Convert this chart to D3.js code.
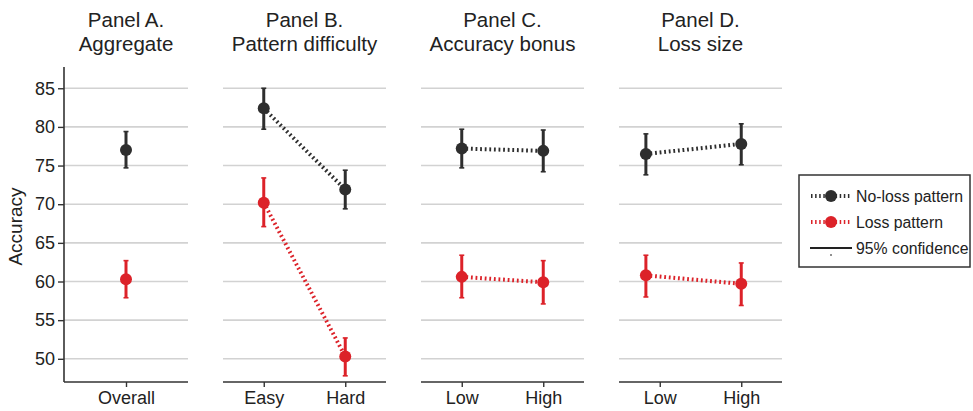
<!DOCTYPE html>
<html>
<head>
<meta charset="utf-8">
<script src="https://cdn.jsdelivr.net/npm/d3@7/dist/d3.min.js"></script>
<style>
  html, body { margin: 0; padding: 0; background: #fff; }
  svg { display: block; font-family: "Liberation Sans", Arial, Helvetica, sans-serif; }
</style>
</head>
<body>
<svg id="chart" width="973" height="411"></svg>
<script>
// ---- data ----
const panelTitles = [
  ["Panel A.", "Aggregate"],
  ["Panel B.", "Pattern difficulty"],
  ["Panel C.", "Accuracy bonus"],
  ["Panel D.", "Loss size"]
];
const panelCategories = [
  ["Overall"],
  ["Easy", "Hard"],
  ["Low", "High"],
  ["Low", "High"]
];
// position of each point along its panel's category axis (1 = first category)
const pointPositions = [
  [1],
  [1, 2],
  [1, 2],
  [0.83, 2]
];

// No-loss pattern: mean, lower and upper 95% bounds per panel
const noLossMean  = [[77.0], [82.4, 71.9], [77.2, 76.9], [76.5, 77.8]];
const noLossLower = [[74.7], [79.7, 69.4], [74.7, 74.2], [73.8, 75.1]];
const noLossUpper = [[79.4], [85.0, 74.4], [79.7, 79.6], [79.1, 80.4]];

// Loss pattern
const lossMean  = [[60.3], [70.2, 50.3], [60.6, 59.9], [60.8, 59.7]];
const lossLower = [[57.9], [67.1, 47.8], [57.9, 57.1], [58.0, 56.9]];
const lossUpper = [[62.7], [73.4, 52.7], [63.4, 62.7], [63.4, 62.4]];

const yTicks = [50, 55, 60, 65, 70, 75, 80, 85];
const yLabel = "Accuracy";
const legendLabels = ["No-loss pattern", "Loss pattern", "95% confidence"];

// ---- layout ----
const colors = { noLoss: "#2e2e2e", loss: "#dc2229" };
const inkColor = "#222";
const panelX = [[64, 188], [223, 386], [421, 584], [619, 782]];
const plotTop = 67, plotBottom = 382;

const svg = d3.select("#chart");
const y = d3.scaleLinear().domain([47.0, 87.75]).range([plotBottom, plotTop]);

const series = [
  { key: "noLoss", mean: noLossMean, lower: noLossLower, upper: noLossUpper, color: colors.noLoss },
  { key: "loss",   mean: lossMean,   lower: lossLower,   upper: lossUpper,   color: colors.loss }
];

panelTitles.forEach((title, p) => {
  const cats = panelCategories[p];
  const x = d3.scaleLinear()
    .domain([0.5, cats.length + 0.5])
    .range(panelX[p]);
  const g = svg.append("g");

  // horizontal gridlines
  g.selectAll("line.grid").data(yTicks).enter().append("line")
    .attr("class", "grid")
    .attr("x1", panelX[p][0]).attr("x2", panelX[p][1])
    .attr("y1", d => y(d)).attr("y2", d => y(d))
    .attr("stroke", "#d2d2d2").attr("stroke-width", 1.6);

  // bottom axis
  const xAxis = d3.axisBottom(x)
    .tickValues(d3.range(1, cats.length + 1))
    .tickFormat(d => cats[d - 1])
    .tickSize(5).tickSizeOuter(0);
  const ax = g.append("g").attr("transform", `translate(0,${plotBottom})`).call(xAxis);
  ax.select(".domain").attr("stroke", "#333").attr("stroke-width", 1.6)
    .attr("d", `M${panelX[p][0]},0H${panelX[p][1]}`);
  ax.selectAll(".tick line").attr("stroke", "#333").attr("stroke-width", 1.4);
  ax.selectAll(".tick text").attr("font-size", 18).attr("fill", inkColor)
    .attr("font-family", "Liberation Sans, Arial, sans-serif").attr("dy", "0.95em").attr("y", 5);

  // left axis on the first panel only
  if (p === 0) {
    const yAxis = d3.axisLeft(y).tickValues(yTicks).tickSize(6).tickSizeOuter(0).tickPadding(3);
    const ay = g.append("g").attr("transform", `translate(${panelX[p][0]},0)`).call(yAxis);
    ay.select(".domain").attr("stroke", "#333").attr("stroke-width", 1.6)
      .attr("d", `M0,${plotTop}V${plotBottom}`);
    ay.selectAll(".tick line").attr("stroke", "#333").attr("stroke-width", 1.4);
    ay.selectAll(".tick text").attr("font-size", 18).attr("fill", inkColor)
      .attr("font-family", "Liberation Sans, Arial, sans-serif");
  }

  // panel title
  const t = g.append("text")
    .attr("x", (panelX[p][0] + panelX[p][1]) / 2)
    .attr("text-anchor", "middle")
    .attr("font-size", 20.5).attr("fill", inkColor);
  t.append("tspan").attr("x", (panelX[p][0] + panelX[p][1]) / 2).attr("y", 27).text(title[0]);
  t.append("tspan").attr("x", (panelX[p][0] + panelX[p][1]) / 2).attr("y", 51).text(title[1]);

  // series: connectors, error bars, points
  series.forEach(s => {
    const pts = s.mean[p].map((m, i) => ({
      pos: pointPositions[p][i], mean: m, lo: s.lower[p][i], hi: s.upper[p][i]
    }));
    if (pts.length > 1) {
      g.append("path")
        .attr("d", d3.line().x(d => x(d.pos)).y(d => y(d.mean))(pts))
        .attr("fill", "none").attr("stroke", s.color)
        .attr("stroke-width", 4).attr("stroke-dasharray", "1.8,2.8");
    }
    const eb = g.selectAll(null).data(pts).enter().append("g");
    eb.append("line")
      .attr("x1", d => x(d.pos)).attr("x2", d => x(d.pos))
      .attr("y1", d => y(d.lo)).attr("y2", d => y(d.hi))
      .attr("stroke", s.color).attr("stroke-width", 3);
    ["lo", "hi"].forEach(k => {
      eb.append("line")
        .attr("x1", d => x(d.pos) - 2.5).attr("x2", d => x(d.pos) + 2.5)
        .attr("y1", d => y(d[k])).attr("y2", d => y(d[k]))
        .attr("stroke", s.color).attr("stroke-width", 1.6);
    });
    eb.append("circle")
      .attr("cx", d => x(d.pos)).attr("cy", d => y(d.mean))
      .attr("r", 6).attr("fill", s.color);
  });
});

// y-axis title
svg.append("text")
  .attr("transform", `translate(22,${(y(60) + y(75)) / 2 + 3}) rotate(-90)`)
  .attr("text-anchor", "middle")
  .attr("font-size", 19).attr("fill", inkColor)
  .text(yLabel);

// legend
const lg = svg.append("g");
lg.append("rect")
  .attr("x", 799).attr("y", 175).attr("width", 171).attr("height", 92)
  .attr("fill", "#fff").attr("stroke", "#333").attr("stroke-width", 1.5);
const legendRows = [196, 222, 248];
[colors.noLoss, colors.loss].forEach((c, i) => {
  lg.append("line")
    .attr("x1", 811).attr("x2", 852)
    .attr("y1", legendRows[i]).attr("y2", legendRows[i])
    .attr("stroke", c).attr("stroke-width", 4).attr("stroke-dasharray", "1.5,2.6");
  lg.append("circle").attr("cx", 831).attr("cy", legendRows[i]).attr("r", 6).attr("fill", c);
});
lg.append("line")
  .attr("x1", 810).attr("x2", 852)
  .attr("y1", legendRows[2]).attr("y2", legendRows[2])
  .attr("stroke", "#222").attr("stroke-width", 1.8);
lg.append("line")
  .attr("x1", 831).attr("x2", 831)
  .attr("y1", legendRows[2] + 6).attr("y2", legendRows[2] + 8)
  .attr("stroke", "#222").attr("stroke-width", 1);
legendLabels.forEach((lbl, i) => {
  lg.append("text")
    .attr("x", 856).attr("y", legendRows[i] + 6)
    .attr("font-size", 15.8).attr("fill", inkColor)
    .text(lbl);
});
</script>
</body>
</html>
